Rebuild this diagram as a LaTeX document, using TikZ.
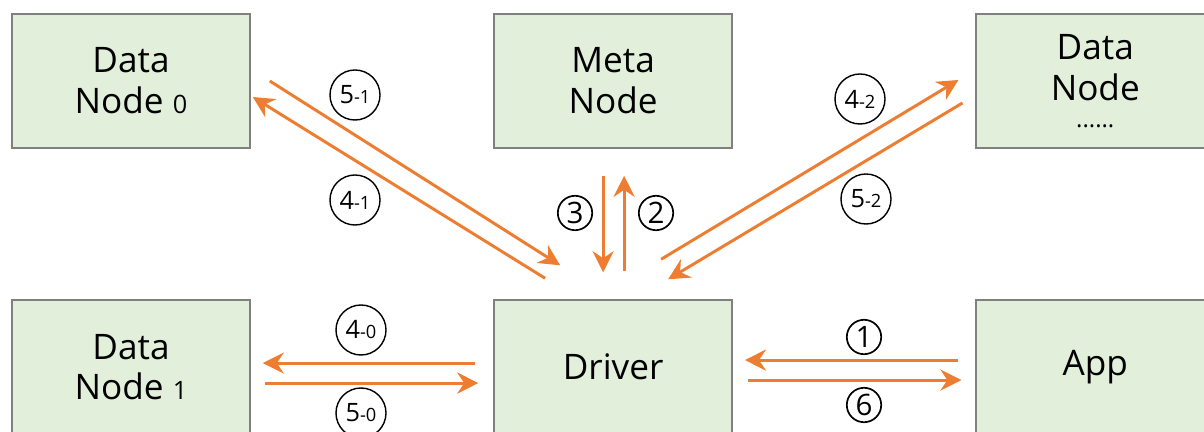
\documentclass[tikz,border=0pt]{standalone}
\usepackage{fontspec}
\setmainfont{Open Sans}
\usetikzlibrary{arrows.meta,calc}
\definecolor{boxfill}{HTML}{E2EFDA}
\definecolor{boxline}{HTML}{808080}
\definecolor{flowcol}{HTML}{ED7D31}
\newcommand{\subno}[2]{{\fontsize{18}{20}\selectfont #1}{\fontsize{13}{14}\selectfont -#2}}
\newcommand{\smallno}[1]{{\fontsize{18}{18}\selectfont #1}}
\begin{document}
\begin{tikzpicture}[x=0.025cm, y=-0.025cm, node distance=7.15cm,
    box/.style={rectangle, fill=boxfill, draw=boxline, line width=1.1pt, minimum width=5.95cm, minimum height=3.35cm, align=center, font=\fontsize{25}{29}\selectfont},
    flow/.style={draw=flowcol, line width=2.1pt, -{Stealth[length=15pt, width=15pt, inset=5pt]}},
    numlabel/.style={circle, draw=black, line width=1pt, minimum size=1.25cm, inner sep=0pt},
    numglyph/.style={circle, draw=black, line width=1.2pt, minimum size=0.86cm, inner sep=0pt, font=\fontsize{21}{21}\selectfont}]
    \useasboundingbox (0,0) rectangle (1204,432);

    \node(dn0)[box] at (131,81) {Data\\Node \smallno{0}};
    \node(meta)[box, right of=dn0, xshift=4.9cm]{Meta\\Node};
    \node(dnx)[box, right of=meta, xshift=4.9cm]{Data\\Node\\[-10pt]{\fontsize{17}{17}\selectfont ......}};
    \node(dn1)[box, below of=dn0]{Data\\Node \smallno{1}};
    \node(drv)[box, right of=dn1, xshift=4.9cm]{Driver};
    \node(app)[box, right of=drv, xshift=4.9cm]{App};

    % App <-> Driver
    \draw[flow] ($(app.west)+(-17,-7)$) -- ($(drv.east)+(12,-7)$);
    \draw[flow] ($(drv.east)+(15,13)$) -- ($(app.west)+(-14,13)$);
    % Driver <-> Meta Node
    \draw[flow] ($(drv.north)+(11,-28)$) -- ($(meta.south)+(11,27)$);
    \draw[flow] ($(meta.south)+(-10,27)$) -- ($(drv.north)+(-10,-27)$);
    % Driver <-> Data Node 0
    \draw[flow] ($(dn0.east)+(19,0)$) -- ($(drv.north)+(-53,-34)$);
    \draw[flow] ($(drv.north)+(-68,-21)$) -- ($(dn0.east)+(2,16)$);
    % Driver <-> Data Node ......
    \draw[flow] ($(drv.north)+(48,-40)$) -- ($(dnx.west)+(-17,-1)$);
    \draw[flow] ($(dnx.west)+(-13,22)$) -- ($(drv.north)+(55,-20)$);
    % Driver <-> Data Node 1
    \draw[flow] ($(drv.west)+(-18,-4)$) -- ($(dn1.east)+(12,-4)$);
    \draw[flow] ($(dn1.east)+(14,16)$) -- ($(drv.west)+(-15,16)$);

    \node(s1)[numglyph] at (864,337) {1};
    \node(s6)[numglyph] at (864,405) {6};
    \node(s2)[numglyph] at (656,213) {2};
    \node(s3)[numglyph] at (575,213) {3};
    \node(s51)[numlabel] at (355,95) {\subno{5}{1}};
    \node(s41)[numlabel] at (355,200) {\subno{4}{1}};
    \node(s42)[numlabel] at (860,99) {\subno{4}{2}};
    \node(s52)[numlabel] at (866,199) {\subno{5}{2}};
    \node(s40)[numlabel] at (361,330) {\subno{4}{0}};
    \node(s50)[numlabel] at (361,413) {\subno{5}{0}};
\end{tikzpicture}
\end{document}
